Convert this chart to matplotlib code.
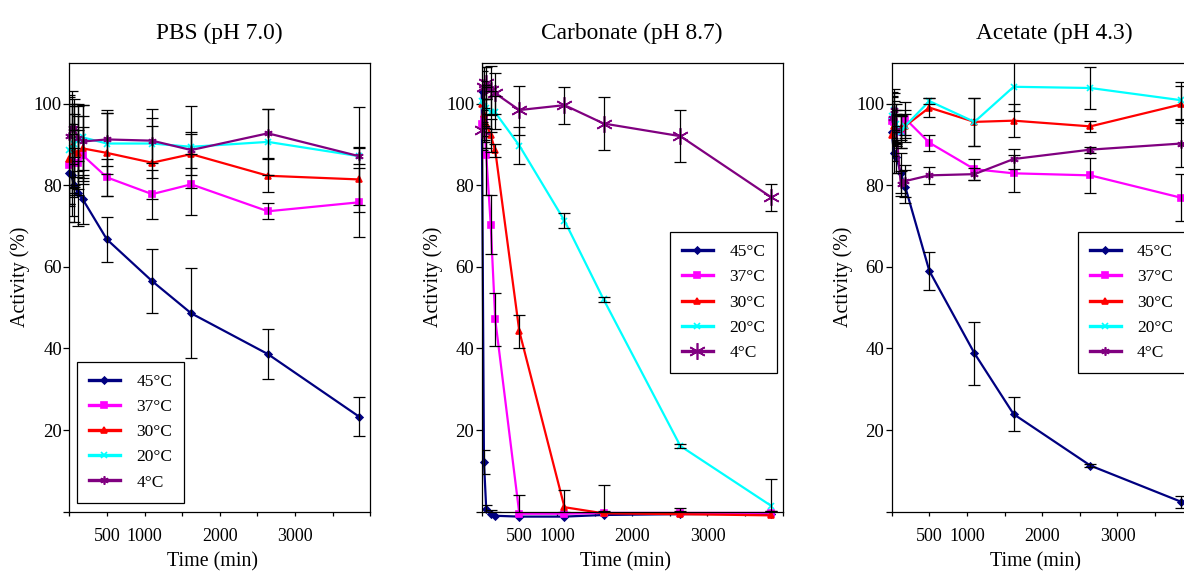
import numpy as np
import matplotlib.pyplot as plt
from matplotlib.ticker import FixedLocator, FuncFormatter

plt.rcParams["font.family"] = ["Liberation Serif", "DejaVu Serif"]

# === Data (activity in % of initial, mean +/- sd) ===
TIME = [0, 30, 60, 120, 180, 500, 1100, 1620, 2640, 3850]
TEMPS = ["45°C", "37°C", "30°C", "20°C", "4°C"]
COLORS = ["#000080", "#FF00FF", "#FF0000", "#00FFFF", "#800080"]
MARKERS = ["D", "s", "^", "x", (6, 2, 0)]
MARKER_SIZES = [3.5, 4.5, 5, 5, 6]

XTICK_LABELS = [500, 1000, 2000, 3000]
YTICK_LABELS = [20, 40, 60, 80, 100]

# PBS (pH 7.0)
pbs_45 = [83, 82.5, 80, 78, 76.5, 66.7, 56.5, 48.6, 38.6, 23.3]
pbs_37 = [85, 86, 85.5, 85.5, 87.3, 81.9, 77.8, 80.2, 73.6, 75.8]
pbs_30 = [86.5, 89.4, 88.5, 88, 89, 87.9, 85.5, 87.6, 82.3, 81.4]
pbs_20 = [88.5, 89, 90, 91, 91.7, 90.2, 90.2, 89.4, 90.6, 87.1]
pbs_4 = [92, 94.1, 94, 91.5, 90.7, 91.2, 90.9, 88.6, 92.7, 87.1]
pbs_45_err = [12, 10, 9, 8, 6, 5.5, 7.8, 11, 6.2, 4.8]
pbs_37_err = [10, 9, 8, 8, 7, 4.5, 6, 7.5, 2, 8.5]
pbs_30_err = [11, 10, 9, 9, 8, 10.5, 9, 5, 4, 8]
pbs_20_err = [13, 11, 10, 9, 8, 7.5, 8.5, 10, 8, 12]
pbs_4_err = [10, 9, 7, 8, 9, 6.5, 5.5, 4.5, 6, 2]

# Carbonate (pH 8.7)
car_45 = [103, 12.2, 0.7, -0.5, -1, -1.2, -1.2, -0.8, -0.6, -0.5]
car_37 = [95, 96, 87.5, 70.3, 47.1, -0.5, -0.5, -0.3, -0.3, -0.3]
car_30 = [100, 97.5, 95, 92.2, 88.5, 44.2, 1.1, -0.4, -0.6, -0.9]
car_20 = [100.5, 99.5, 99, 98, 97.8, 89.7, 71.3, 52.0, 16.1, 1.4]
car_4 = [93.5, 104, 105, 103.3, 102.5, 98.4, 99.6, 95.1, 92.0, 77.0]
car_45_err = [8, 3, 1, 1, 1, 0.5, 0.5, 0.5, 0.5, 0.5]
car_37_err = [6, 5, 10, 7.2, 6.6, 4.5, 0.5, 0.5, 0.5, 0.5]
car_30_err = [8, 7, 6, 4, 1.5, 4, 4.3, 7, 1.5, 1]
car_20_err = [5, 5, 5, 5, 4, 4.5, 1.8, 0.7, 0.6, 6.5]
car_4_err = [5, 5, 4, 6, 5, 6, 4.5, 6.6, 6.4, 3.4]

# Acetate (pH 4.3)
ace_45 = [93, 88, 87, 83, 79.6, 59.0, 38.8, 23.9, 11.3, 2.4]
ace_37 = [95.8, 95.5, 93.5, 93, 96.3, 90.4, 83.9, 82.9, 82.4, 76.9]
ace_30 = [92.2, 94.5, 94.3, 94, 94.5, 99.0, 95.5, 95.8, 94.4, 99.8]
ace_20 = [96.9, 98.5, 95, 93.1, 94.5, 100.6, 95.5, 104.1, 103.8, 100.8]
ace_4 = [96.5, 98.5, 93.5, 80.4, 81.0, 82.4, 82.7, 86.4, 88.7, 90.2]
ace_45_err = [7, 5, 4, 5, 4, 4.6, 7.7, 4.1, 0.4, 1.5]
ace_37_err = [6, 5, 4, 4, 4, 2, 2.6, 4.5, 4.3, 5.8]
ace_30_err = [5, 4, 4, 3, 3, 2.3, 5.9, 4, 1.4, 4.5]
ace_20_err = [6, 5, 5, 4, 4, 0.8, 5.9, 6, 5.2, 4.5]
ace_4_err = [5, 4, 4, 3, 4, 2, 1.5, 2.5, 0.7, 5.8]

panels = [
    ("PBS (pH 7.0)",
     [pbs_45, pbs_37, pbs_30, pbs_20, pbs_4],
     [pbs_45_err, pbs_37_err, pbs_30_err, pbs_20_err, pbs_4_err]),
    ("Carbonate (pH 8.7)",
     [car_45, car_37, car_30, car_20, car_4],
     [car_45_err, car_37_err, car_30_err, car_20_err, car_4_err]),
    ("Acetate (pH 4.3)",
     [ace_45, ace_37, ace_30, ace_20, ace_4],
     [ace_45_err, ace_37_err, ace_30_err, ace_20_err, ace_4_err]),
]

# === Layout ===
W, H = 1184, 577
ax_lefts = [69.3, 481.7, 891.7]
ax_w, ax_top, ax_bottom = 301, 62.7, 511.7
title_x = [0.5, 0.5, 0.54]
purple_size = [6, 12, 6]
legend_spots = [("lower left", (0.026, 0.02)),
                ("upper left", (0.626, 0.623)),
                ("upper left", (0.619, 0.623))]

fig = plt.figure(figsize=(W / 100, H / 100), dpi=100)

for i, (title, series, errs) in enumerate(panels):
    ax = fig.add_axes([ax_lefts[i] / W, (H - ax_bottom) / H,
                       ax_w / W, (ax_bottom - ax_top) / H])

    for j, (vals, err) in enumerate(zip(series, errs)):
        ms = purple_size[i] if j == 4 else MARKER_SIZES[j]
        ax.plot(TIME, vals, color=COLORS[j], marker=MARKERS[j], ms=ms,
                mew=1.2, lw=1.6, label=TEMPS[j], clip_on=False, zorder=2)
        ax.errorbar(TIME, vals, yerr=err, fmt="none", ecolor="black",
                    elinewidth=0.9, capsize=4, capthick=0.9, zorder=3)

    ax.set_xlim(0, 4000)
    ax.set_ylim(0, 110)

    ax.xaxis.set_major_locator(FixedLocator(np.arange(0, 4001, 500)))
    ax.xaxis.set_major_formatter(
        FuncFormatter(lambda v, _: f"{v:.0f}" if v in XTICK_LABELS else ""))
    ax.yaxis.set_major_locator(FixedLocator(np.arange(0, 101, 20)))
    ax.yaxis.set_major_formatter(
        FuncFormatter(lambda v, _: f"{v:.0f}" if v in YTICK_LABELS else ""))

    ax.tick_params(axis="x", direction="out", length=3, width=0.9,
                   pad=9, labelsize=13)
    ax.tick_params(axis="y", direction="out", length=4.3, width=0.9,
                   pad=1, labelsize=13.5)
    for s in ax.spines.values():
        s.set_linewidth(0.9)

    ax.set_title(title, fontsize=16.8, pad=17, x=title_x[i])
    ax.set_xlabel("Time (min)", fontsize=14.4)
    ax.set_ylabel("Activity (%)", fontsize=14.4)
    ax.xaxis.set_label_coords(0.477, -0.09)
    ax.yaxis.set_label_coords(-0.13, 0.523)

    loc, anchor = legend_spots[i]
    leg = ax.legend(loc=loc, bbox_to_anchor=anchor, borderaxespad=0,
                    fontsize=12.5, frameon=True, fancybox=False,
                    edgecolor="black", framealpha=1, borderpad=0.7,
                    handlelength=1.75, handletextpad=0.95,
                    labelspacing=0.52)
    leg.get_frame().set_linewidth(0.9)
    for h in leg.get_lines():
        h.set_linewidth(2.4)

fig.savefig("out.png", dpi=100)
